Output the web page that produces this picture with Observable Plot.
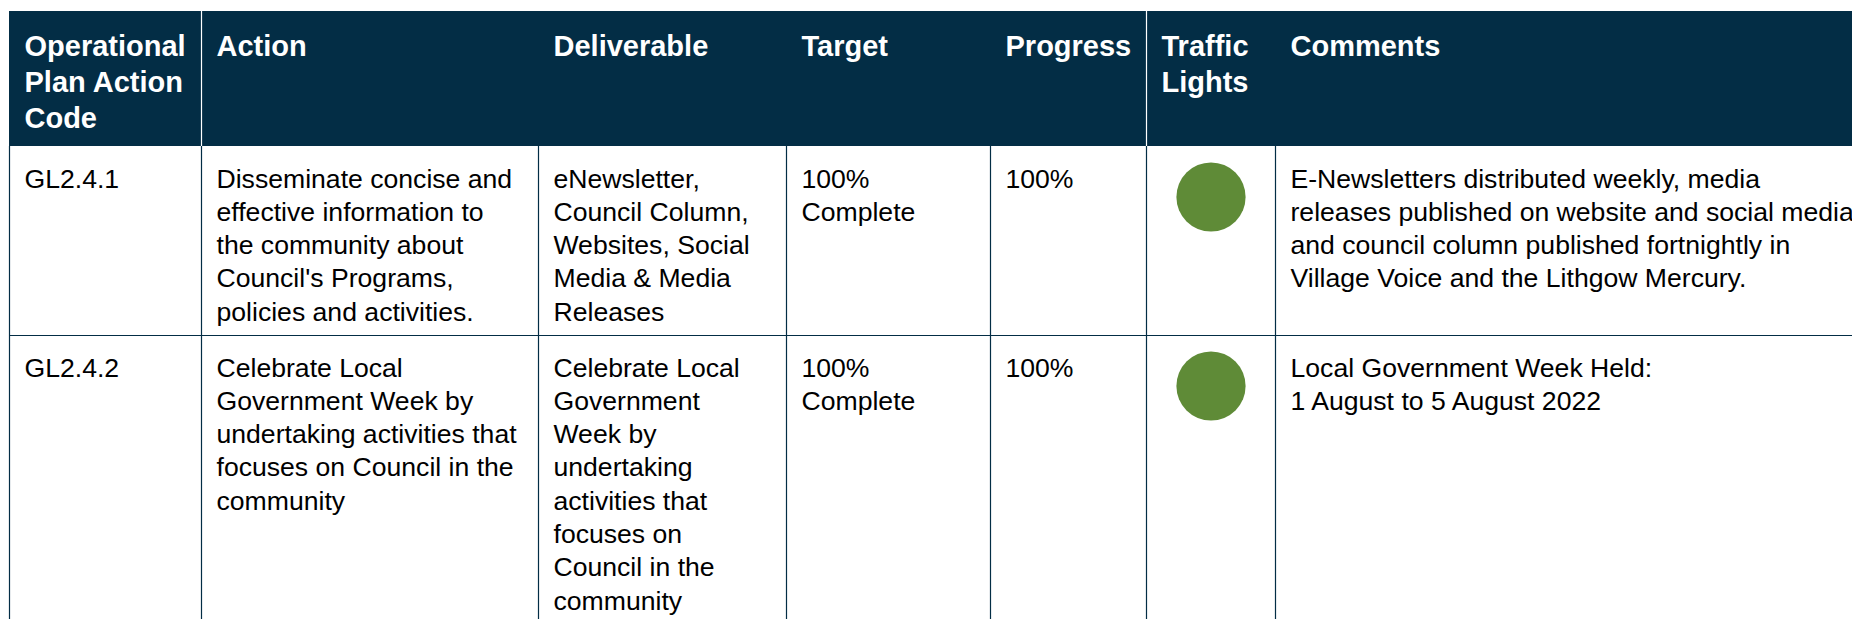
<!DOCTYPE html>
<html>
<head>
<meta charset="utf-8">
<script src="https://cdn.jsdelivr.net/npm/d3@7"></script>
<script src="https://cdn.jsdelivr.net/npm/@observablehq/plot@0.6"></script>
<style>
  html, body { margin: 0; padding: 0; background: #ffffff; overflow: hidden; }
  #chart svg { display: block; font-family: "Liberation Sans", Arial, Helvetica, sans-serif; }
</style>
</head>
<body>
<div id="chart"></div>
<script>
// ---- Table content ----
const headers = [
  "Operational\nPlan Action\nCode",
  "Action",
  "Deliverable",
  "Target",
  "Progress",
  "Traffic\nLights",
  "Comments"
];
const codes = ["GL2.4.1", "GL2.4.2"];
const actions = [
  "Disseminate concise and\neffective information to\nthe community about\nCouncil's Programs,\npolicies and activities.",
  "Celebrate Local\nGovernment Week by\nundertaking activities that\nfocuses on Council in the\ncommunity"
];
const deliverables = [
  "eNewsletter,\nCouncil Column,\nWebsites, Social\nMedia & Media\nReleases",
  "Celebrate Local\nGovernment\nWeek by\nundertaking\nactivities that\nfocuses on\nCouncil in the\ncommunity"
];
const targets = ["100%\nComplete", "100%\nComplete"];
const progress = ["100%", "100%"];
const lights = ["green", "green"];
const comments = [
  "E-Newsletters distributed weekly, media\nreleases published on website and social media\nand council column published fortnightly in\nVillage Voice and the Lithgow Mercury.",
  "Local Government Week Held:\n1 August to 5 August 2022"
];

// ---- Layout (pixel geometry of the table) ----
const W = 1852, H = 619;
const colEdges = [9, 201, 538, 786, 990, 1146, 1275, 1900];
const headerTop = 11, headerBottom = 146;
const rowEdges = [146, 335, 700];
const pad = 15;
const navy = "#032d45";
const lightColors = { green: "#5f8b37", amber: "#f0a30a", red: "#c0392b" };

const headFont = 29, headLH = 1.255;
const bodyFont = 26.6, bodyLH = 1.252;
// Plot places the first baseline 0.71*lineHeight em below y when lineAnchor is "top"
const headBaseline = 55;          // first header baseline
const bodyBaselineOffset = 41;    // first body baseline below each row's top rule

// Build cells
const bodyCols = [codes, actions, deliverables, targets, progress, null, comments];
const bodyCells = [];
codes.forEach((_, r) => {
  bodyCols.forEach((col, c) => {
    if (col) bodyCells.push({ row: r, col: c, text: col[r] });
  });
});
const headerCells = headers.map((t, c) => ({ col: c, text: t }));
const lightCells = lights.map((l, r) => ({ row: r, status: l }));

const bodyDividers = colEdges.slice(0, 7).map(x => ({ x }));
const headerDividers = [1, 5].map(i => ({ x: colEdges[i] }));
const rowDividers = rowEdges.slice(1, -1).map(y => ({ y }));

const chart = Plot.plot({
  width: W,
  height: H,
  margin: 0,
  x: { type: "linear", domain: [0, W], range: [0, W], axis: null },
  y: { type: "linear", domain: [0, H], range: [0, H], axis: null },
  style: { background: "#ffffff", fontFamily: "'Liberation Sans', Arial, sans-serif", overflow: "hidden" },
  marks: [
    // header background
    Plot.rect([{}], { x1: colEdges[0], x2: W + 10, y1: headerTop, y2: headerBottom, fill: navy }),
    // header white dividers
    Plot.ruleX(headerDividers, { x: "x", y1: headerTop, y2: headerBottom, stroke: "#ffffff", strokeWidth: 1.2 }),
    // body column dividers
    Plot.ruleX(bodyDividers, { x: "x", y1: headerBottom, y2: H + 5, stroke: navy, strokeWidth: 1.2 }),
    // row divider
    Plot.ruleY(rowDividers, { y: "y", x1: colEdges[0], x2: W + 10, stroke: navy, strokeWidth: 1.2 }),
    // header text
    Plot.text(headerCells, {
      x: d => colEdges[d.col] + pad,
      y: headBaseline - 0.71 * headLH * headFont,
      text: "text",
      textAnchor: "start",
      lineAnchor: "top",
      fontSize: headFont,
      fontWeight: "bold",
      lineHeight: headLH,
      fill: "#ffffff"
    }),
    // body text
    Plot.text(bodyCells, {
      x: d => colEdges[d.col] + pad,
      y: d => rowEdges[d.row] + bodyBaselineOffset - 0.71 * bodyLH * bodyFont,
      text: "text",
      textAnchor: "start",
      lineAnchor: "top",
      fontSize: bodyFont,
      lineHeight: bodyLH,
      fill: "#000000"
    }),
    // traffic lights
    Plot.dot(lightCells, {
      x: (colEdges[5] + colEdges[6]) / 2,
      y: d => rowEdges[d.row] + 50.5,
      r: 34.6,
      fill: d => lightColors[d.status],
      stroke: "none"
    })
  ]
});
document.getElementById("chart").append(chart);
</script>
</body>
</html>
